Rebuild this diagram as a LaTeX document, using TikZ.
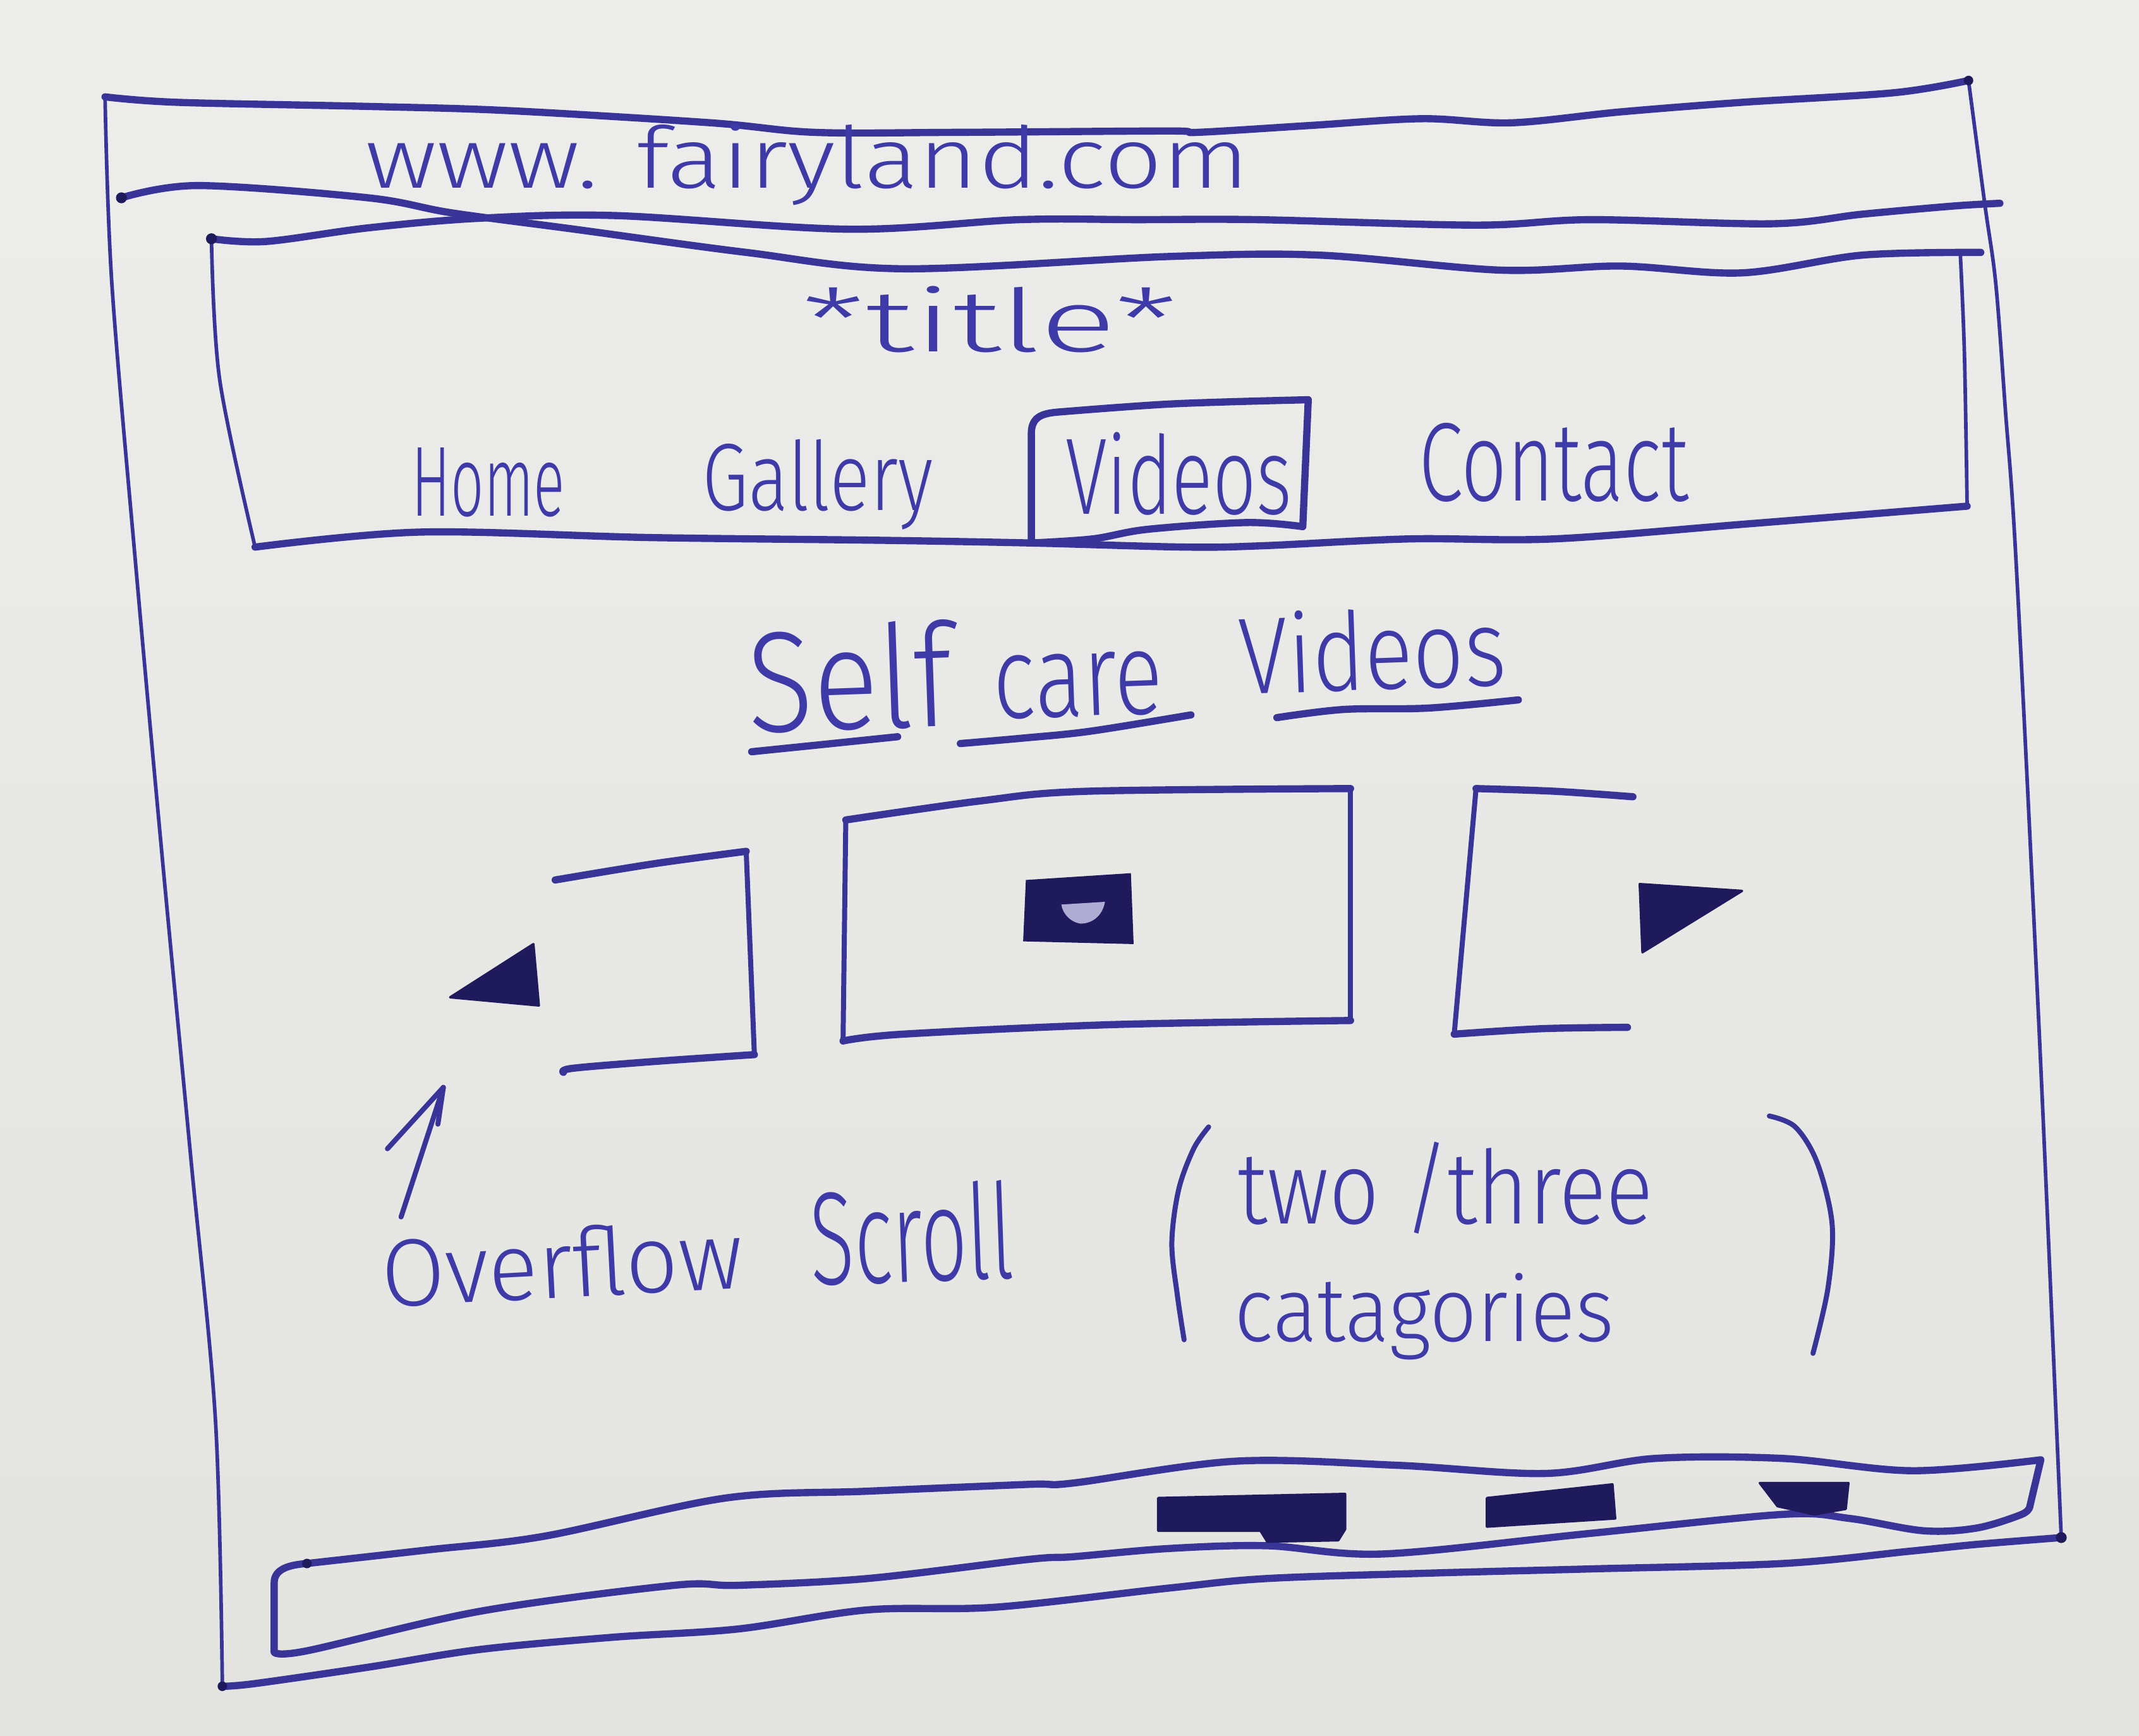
\documentclass[tikz,border=0pt]{standalone}
\usepackage{fontspec}
\usepackage{graphicx}
\newfontfamily\handfont{Fira Sans}[UprightFont={* Light}]
\newdimen\sku \sku=0.02cm
% text squeezed into a given width and height (in drawing units)
\newcommand{\handtext}[3]{\resizebox{#1\sku}{#2\sku}{\handfont #3}}
\definecolor{paperTop}{RGB}{237,237,235}
\definecolor{paperBottom}{RGB}{227,227,224}
\definecolor{ink}{RGB}{56,52,152}
\definecolor{inkText}{RGB}{62,58,168}
\definecolor{inkDark}{RGB}{30,26,92}
\definecolor{inkLight}{RGB}{175,172,212}
\begin{document}
\begin{tikzpicture}[x=0.02cm, y=-0.02cm,
  pen/.style={draw=ink, line width=3pt, line cap=round, line join=round},
  midpen/.style={draw=ink, line width=2.1pt, line cap=round, line join=round},
  finepen/.style={draw=ink, line width=1.5pt, line cap=round, line join=round},
  blot/.style={fill=inkDark, draw=inkDark, line width=1pt, line join=round},
  hand/.style={anchor=base west, inner sep=0pt, outer sep=0pt, text=inkText},
  wob/.style={smooth, tension=0.55}]

\useasboundingbox (0,0) rectangle (1568,1272);
\shade[top color=paperTop, bottom color=paperBottom] (0,0) rectangle (1568,1272);

% ---- browser window frame ----
\draw[pen] plot[wob] coordinates {(77,71) (130,75) (270,78) (371,81) (521,90) (597,97) (700,97) (857,96) (878,97) (960,92) (1042,87) (1108,90) (1188,82) (1277,75) (1388,68) (1443,59)};
\draw[finepen] plot[wob] coordinates {(1443,59) (1455,150) (1463,208) (1470,300) (1478,414) (1495,760) (1511,1127)};
\draw[finepen] plot[wob] coordinates {(77,71) (82,208) (100,420) (120,640) (140,850) (158,1042) (163,1236)};
\draw[pen] plot[wob] coordinates {(163,1236) (187,1234) (270,1222) (352,1209) (450,1200) (541,1194) (636,1180) (730,1178) (857,1164) (929,1157) (1050,1153) (1165,1150) (1307,1146) (1400,1137) (1449,1132) (1511,1127)};

% ---- address bar lower edge / header top edge (crossing strokes) ----
\draw[pen] plot[wob] coordinates {(89,145) (145,136) (270,145) (331,156) (421,168) (547,185) (662,197) (857,188) (967,187) (1100,198) (1188,195) (1277,200) (1365,187) (1452,185)};
\draw[pen] plot[wob] coordinates {(155,175) (195,177) (270,167) (351,160) (451,158) (622,168) (747,161) (834,161) (922,161) (1082,165) (1166,161) (1299,164) (1365,157) (1432,151) (1466,149)};

\node[hand] (url) at (268,138) {\handtext{648}{47}{www. fairyland.com}};

% ---- header box ----
\draw[finepen] plot[wob] coordinates {(155,175) (161,278) (187,401)};
\draw[finepen] plot[wob] coordinates {(1437,186) (1440,259) (1442,371)};
\draw[pen] plot[wob] coordinates {(187,401) (308,390) (476,394) (644,396) (756,398) (869,401) (926,400) (1033,395) (1139,395) (1281,384) (1442,371)};

\node[hand] (titletext) at (588,258) {\handtext{275}{48}{*title*}};
\node[hand] (navHome) at (302,378) {\handtext{112}{50}{Home}};
\node[hand] (navGallery) at (515,374) {\handtext{169}{52}{Gallery}};
\node[hand] (navVideos) at (781,377) {\handtext{166}{60}{Videos}};
\node[hand] (navContact) at (1040,367) {\handtext{198}{57}{Contact}};

% active tab frame
\draw[pen] (756,398) -- (756,318) .. controls (756,306) and (763,303) .. (776,302)
  -- plot[wob] coordinates {(776,302) (860,296) (959,293)} -- (955,386)
  -- plot[wob] coordinates {(955,386) (914,383) (841,388) (801,395) (756,398)};

% ---- heading ----
\node[hand, rotate=2] (hSelf) at (549,537) {\handtext{150}{78}{Self}};
\node[hand, rotate=2] (hCare) at (729,527) {\handtext{124}{46}{care}};
\node[hand, rotate=2] (hVideos) at (909,509) {\handtext{196}{60}{Videos}};
\draw[pen] plot[wob] coordinates {(551,551) (600,546) (658,540)};
\draw[pen] plot[wob] coordinates {(704,545) (750,541) (799,536) (873,524)};
\draw[pen] plot[wob] coordinates {(936,526) (985,520) (1047,519) (1113,513)};

% ---- carousel ----
% previous card
\draw[pen] plot[wob] coordinates {(407,645) (480,633) (547,624)};
\draw[midpen] (547,624) -- (553,773);
\draw[pen] plot[wob] coordinates {(553,773) (480,778) (420,783) (413,786)};
% current card
\draw[pen] plot[wob] coordinates {(620,601) (719,587) (796,580) (990,578)};
\draw[midpen] (990,578) -- (990,748);
\draw[pen] plot[wob] coordinates {(990,748) (816,751) (662,758) (618,763)};
\draw[midpen] (618,763) -- (620,601);
% play icon
\fill[inkDark] (752,645) -- (829,640) -- (831,692) -- (750,690) -- cycle;
\fill[inkLight] (778,663) -- (810,661) .. controls (808,672) and (800,677) .. (792,677)
  .. controls (785,676) and (779,670) .. cycle;
% next card
\draw[pen] plot[wob] coordinates {(1197,584) (1140,580) (1082,578)};
\draw[midpen] (1082,578) -- (1066,758);
\draw[pen] plot[wob] coordinates {(1066,758) (1130,754) (1193,753)};
% scroll arrows
\filldraw[blot] (391,692) -- (330,731) -- (395,737) -- cycle;
\filldraw[blot] (1202,648) -- (1277,653) -- (1204,698) -- cycle;

% ---- notes ----
\coordinate (arrowFoot) at (294,892);
\coordinate (arrowTip) at (325,797);
\draw[midpen] (arrowFoot) -- (arrowTip);
\draw[midpen] (284,842) -- (arrowTip) -- (321,824);

\node[hand, rotate=3] (lblOverflow) at (281,958) {\handtext{265}{52}{Overflow}};
\node[hand, rotate=2] (lblScroll) at (595,942) {\handtext{149}{72}{Scroll}};
\node[hand] (lblTwo) at (907,897) {\handtext{305}{60}{two /three}};
\node[hand] (lblCat) at (905,983) {\handtext{278}{50}{catagories}};
\draw[midpen] plot[wob] coordinates {(886,826) (875,842) (864,872) (859,911) (863,949) (868,982)};
\draw[midpen] plot[wob] coordinates {(1297,818) (1316,826) (1332,852) (1343,897) (1340,944) (1329,992)};

% ---- footer bar ----
\draw[pen] (201,1211) -- (201,1160) .. controls (201,1150) and (212,1147) .. (225,1146)
  -- plot[wob] coordinates {(225,1146) (314,1136) (399,1126) (532,1098) (636,1093) (754,1088) (787,1087) (906,1071) (1024,1074) (1133,1080) (1213,1069) (1307,1069) (1402,1078) (1496,1070)}
  -- (1488,1104)
  -- plot[wob] coordinates {(1488,1104) (1482,1110) (1449,1120) (1410,1122) (1356,1113) (1307,1110) (1165,1124) (1014,1139) (929,1133) (857,1135) (787,1141) (754,1143) (636,1157) (541,1162) (494,1162) (352,1181) (225,1210) (201,1211)};
% page indicator marks
\filldraw[blot] (849,1098) -- (986,1095) -- (986,1121) -- (981,1129) -- (929,1130) -- (924,1122) -- (849,1122) -- cycle;
\filldraw[blot] (1090,1098) -- (1182,1088) -- (1184,1113) -- (1090,1119) -- cycle;
\filldraw[blot] (1290,1087) -- (1355,1087) -- (1353,1106) -- (1330,1110) -- (1303,1104) -- cycle;

% pen blots at stroke starts
\fill[inkDark] (89,145) circle (4);
\fill[inkDark] (155,175) circle (4);
\fill[inkDark] (225,1146) circle (3.5);
\fill[inkDark] (163,1236) circle (3.5);
\fill[inkDark] (1511,1127) circle (4);
\fill[inkDark] (1443,59) circle (3.5);
\end{tikzpicture}
\end{document}
